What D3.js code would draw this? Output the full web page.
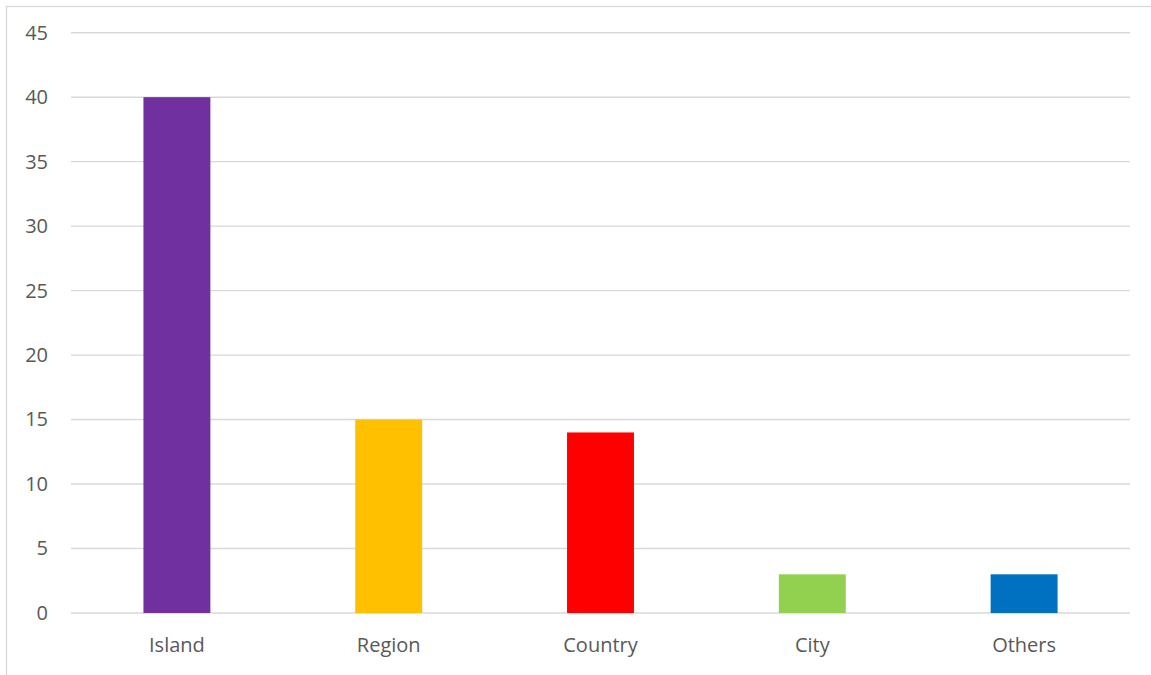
<!DOCTYPE html>
<html>
<head>
<meta charset="utf-8">
<script src="https://cdn.jsdelivr.net/npm/d3@7"></script>
<style>
  html, body { margin: 0; padding: 0; background: #fff; }
  svg { display: block; }
</style>
</head>
<body>
<svg id="chart" width="1151" height="675"></svg>
<script>
const categories = ["Island", "Region", "Country", "City", "Others"];
const values = [40, 15, 14, 3, 3];
const barColors = ["#7030A0", "#FFC000", "#FF0000", "#92D050", "#0070C0"];
const yTicks = [0, 5, 10, 15, 20, 25, 30, 35, 40, 45];

const svg = d3.select("#chart");
const W = 1151, H = 675;
const plot = { left: 71, right: 1130, top: 32.7, bottom: 613 };
const labelFont = "'Open Sans', 'Noto Sans', sans-serif";

// chart frame
svg.append("rect")
  .attr("x", 6.5).attr("y", 6.5)
  .attr("width", W + 10).attr("height", H + 10)
  .attr("fill", "#fff").attr("stroke", "#D9D9D9").attr("stroke-width", 1.3);

const x = d3.scaleBand()
  .domain(categories)
  .range([plot.left, plot.right])
  .paddingInner(0.684)
  .paddingOuter(0.342);

const y = d3.scaleLinear()
  .domain([0, 45])
  .range([plot.bottom, plot.top]);

// horizontal gridlines
svg.append("g")
  .selectAll("line")
  .data(yTicks)
  .join("line")
  .attr("x1", plot.left).attr("x2", plot.right)
  .attr("y1", d => y(d)).attr("y2", d => y(d))
  .attr("stroke", "#D9D9D9").attr("stroke-width", 1.4);

// y-axis labels
const yAxis = d3.axisLeft(y).tickValues(yTicks).tickSize(0).tickPadding(0);
svg.append("g")
  .attr("transform", `translate(48,0)`)
  .call(yAxis)
  .call(g => g.select(".domain").remove())
  .call(g => g.selectAll("text")
    .attr("fill", "#595959")
    .style("font-family", labelFont)
    .style("font-size", "20px"));

// bars
svg.append("g")
  .selectAll("rect")
  .data(categories)
  .join("rect")
  .attr("x", d => x(d))
  .attr("width", x.bandwidth())
  .attr("y", (d, i) => y(values[i]))
  .attr("height", (d, i) => y(0) - y(values[i]))
  .attr("fill", (d, i) => barColors[i]);

// x-axis labels
const xAxis = d3.axisBottom(x).tickSize(0).tickPadding(0);
svg.append("g")
  .attr("transform", `translate(0,${plot.bottom + 25})`)
  .call(xAxis)
  .call(g => g.select(".domain").remove())
  .call(g => g.selectAll("text")
    .attr("fill", "#595959")
    .style("font-family", labelFont)
    .style("font-size", "20px"));
</script>
</body>
</html>
